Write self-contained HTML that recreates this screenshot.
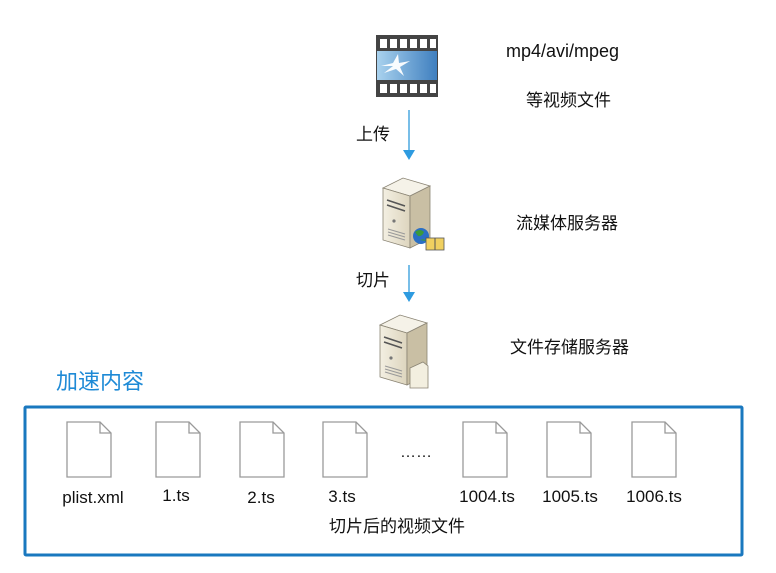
<!DOCTYPE html>
<html><head><meta charset="utf-8"><style>
body{margin:0;width:776px;height:568px;background:#fff;overflow:hidden}
svg text{font-family:"Liberation Sans","Noto Sans CJK SC",sans-serif}
</style></head><body>
<svg width="776" height="568" viewBox="0 0 776 568" xmlns="http://www.w3.org/2000/svg">
<defs>
<linearGradient id="fb" x1="0" y1="0" x2="1" y2="0"><stop offset="0" stop-color="#a9d2ee"/><stop offset="1" stop-color="#3f7fbf"/></linearGradient>
<linearGradient id="sf" x1="0" y1="0" x2="1" y2="0"><stop offset="0" stop-color="#f3efe2"/><stop offset="1" stop-color="#ddd5be"/></linearGradient>
<g id="srv">
<polygon points="383,188 403,178 430,186 410,196" fill="#f5f2e8" stroke="#8a8474" stroke-width="0.8"/>
<polygon points="383,188 410,196 410,248 383,240" fill="url(#sf)" stroke="#8a8474" stroke-width="0.8"/>
<polygon points="410,196 430,186 430,238 410,248" fill="#c9bfa4" stroke="#8a8474" stroke-width="0.8"/>
<line x1="387" y1="200" x2="405" y2="206" stroke="#555" stroke-width="1.5"/>
<line x1="387" y1="205" x2="405" y2="211" stroke="#555" stroke-width="1.5"/>
<circle cx="394" cy="221" r="1.6" fill="#777"/>
<line x1="388" y1="229" x2="405" y2="234" stroke="#999"/>
<line x1="388" y1="232" x2="405" y2="237" stroke="#999"/>
<line x1="388" y1="235" x2="405" y2="240" stroke="#999"/>
</g>
<g id="doc"><path d="M0,0 H33 L44,11 V55 H0 Z" fill="#fff" stroke="#9a9a9a" stroke-width="1.3"/><path d="M33,0 V11 H44" fill="none" stroke="#9a9a9a" stroke-width="1.3"/></g>
</defs>

<!-- film -->
<rect x="376" y="35" width="62" height="62" fill="#444"/>
<rect x="377" y="51" width="60" height="29" fill="url(#fb)"/>
<g fill="#fff">
<rect x="380" y="39" width="7" height="9"/><rect x="390" y="39" width="7" height="9"/><rect x="400" y="39" width="7" height="9"/><rect x="410" y="39" width="7" height="9"/><rect x="420" y="39" width="7" height="9"/><rect x="430" y="39" width="6" height="9"/>
<rect x="380" y="84" width="7" height="9"/><rect x="390" y="84" width="7" height="9"/><rect x="400" y="84" width="7" height="9"/><rect x="410" y="84" width="7" height="9"/><rect x="420" y="84" width="7" height="9"/><rect x="430" y="84" width="6" height="9"/>
<path d="M381,66 L393,63 L398,54 L399,63 L410,61 L400,67 L404,76 L396,69 L384,73 L393,66Z" opacity="0.95"/>
</g>
<text x="506" y="57" font-size="18" fill="#111">mp4/avi/mpeg</text>
<text x="526" y="106" font-size="17" fill="#111">等视频文件</text>

<line x1="409" y1="110" x2="409" y2="152" stroke="#4aa8e0" stroke-width="1.5"/>
<polygon points="403,150 415,150 409,160" fill="#2e9be0"/>
<text x="356" y="140" font-size="17" fill="#111">上传</text>

<use href="#srv"/>
<circle cx="421" cy="236" r="8" fill="#2a6fc4"/><path d="M415,232 q5,-4 9,0 q-2,5 -6,4z M420,240 q4,-2 6,1" fill="#3a9a3a"/>
<rect x="426" y="238" width="18" height="12" fill="#f0d060" stroke="#555" stroke-width="0.8"/><line x1="435" y1="238" x2="435" y2="250" stroke="#555"/>
<text x="516" y="229" font-size="17" fill="#111">流媒体服务器</text>

<line x1="409" y1="265" x2="409" y2="294" stroke="#4aa8e0" stroke-width="1.5"/>
<polygon points="403,292 415,292 409,302" fill="#2e9be0"/>
<text x="356" y="286" font-size="17" fill="#111">切片</text>

<g transform="translate(-3,137)"><use href="#srv"/></g>
<path d="M410,368 L423,362 L428,366 V388 L410,388 Z" fill="#f3efe0" stroke="#8a8474" stroke-width="0.8"/>
<text x="510" y="353" font-size="17" fill="#111">文件存储服务器</text>

<text x="56" y="389" font-size="22" fill="#1e8ad6">加速内容</text>
<rect x="25" y="407" width="717" height="148" fill="#fff" stroke="#1a78bf" stroke-width="3" rx="1"/>

<use href="#doc" x="67" y="422"/>
<use href="#doc" x="156" y="422"/>
<use href="#doc" x="240" y="422"/>
<use href="#doc" x="323" y="422"/>
<use href="#doc" x="463" y="422"/>
<use href="#doc" x="547" y="422"/>
<use href="#doc" x="632" y="422"/>
<text x="400" y="457" font-size="16" fill="#111">……</text>
<g font-size="17" fill="#111" text-anchor="middle">
<text x="93" y="503">plist.xml</text>
<text x="176" y="501">1.ts</text>
<text x="261" y="503">2.ts</text>
<text x="342" y="502">3.ts</text>
<text x="487" y="502">1004.ts</text>
<text x="570" y="502">1005.ts</text>
<text x="654" y="502">1006.ts</text>
</g>
<text x="397" y="532" font-size="17" fill="#111" text-anchor="middle">切片后的视频文件</text>
</svg>
</body></html>
